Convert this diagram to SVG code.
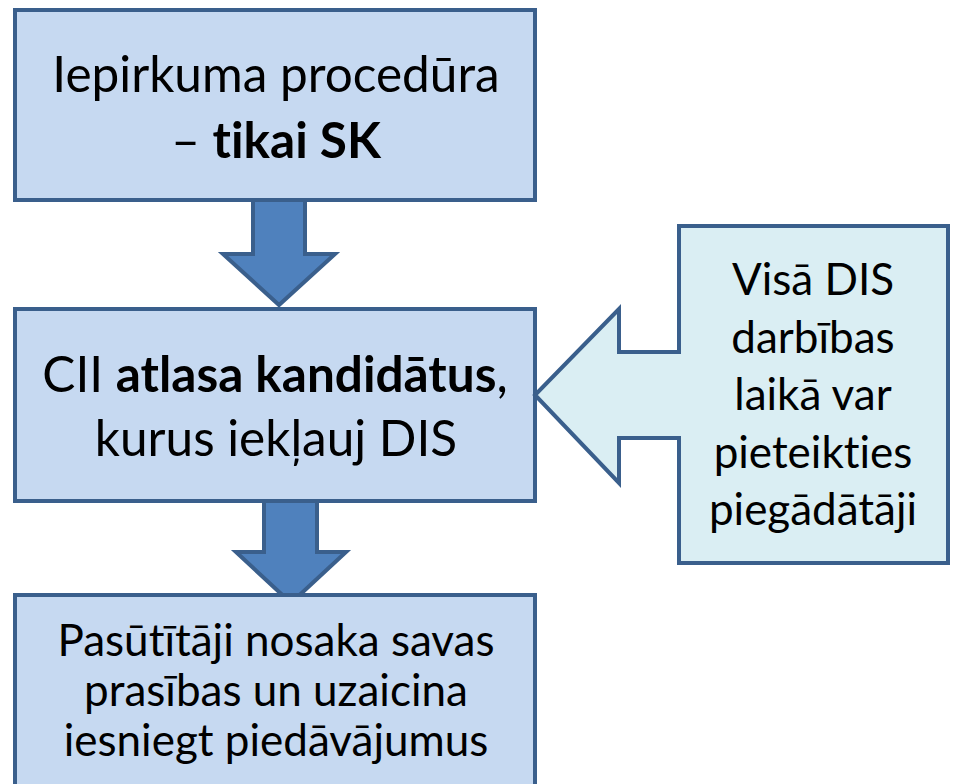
<svg xmlns="http://www.w3.org/2000/svg" width="955" height="784" viewBox="0 0 955 784">
<style>
.box{fill:#C6D9F1;stroke:#3A5F8C;stroke-width:4}
.call{fill:#DAEEF3;stroke:#3A5F8C;stroke-width:4;stroke-linejoin:miter}
.arr{fill:#4F81BD;stroke:#3A5F8C;stroke-width:4}
text{font-family:Lato,"Open Sans","Liberation Sans",sans-serif;fill:#000;text-anchor:middle;font-variant-ligatures:none;font-feature-settings:"liga" 0,"dlig" 0}
.t1{font-size:49.5px}
.t2{font-size:44px}
.b{font-weight:bold}
</style>
<rect width="955" height="784" fill="#fff"/>
<g id="connectors">
<polygon class="arr" points="253,200 305,200 305,254 335,254 279,305 223,254 253,254"/>
<polygon class="arr" points="264,501 317,501 317,552 346,552 291,603 236,552 264,552"/>
</g>
<g id="n1">
<rect class="box" x="15" y="10" width="520" height="190"/>
<text class="t1" x="276" y="92">Iepirkuma procedūra</text>
<text class="t1" x="276" y="158">– <tspan class="b">tikai SK</tspan></text>
</g>
<g id="n2">
<rect class="box" x="15" y="309" width="520" height="192"/>
<text class="t1" x="275" y="392">CII <tspan class="b">atlasa kandidātus</tspan>,</text>
<text class="t1" x="276" y="456">kurus iekļauj DIS</text>
</g>
<g id="n3">
<rect class="box" x="15" y="595" width="520" height="200"/>
<text class="t2" x="276" y="656">Pasūtītāji nosaka savas</text>
<text class="t2" x="276" y="706">prasības un uzaicina</text>
<text class="t2" x="276" y="756">iesniegt piedāvājumus</text>
</g>
<g id="n4">
<path class="call" d="M679,226 L948,226 L948,563 L679,563 L679,438 L619,438 L619,483 L535,395 L619,309 L619,352 L679,352 Z"/>
<text class="t2" x="813" y="295">Visā DIS</text>
<text class="t2" x="813" y="353">darbības</text>
<text class="t2" x="813" y="410">laikā var</text>
<text class="t2" x="813" y="468">pieteikties</text>
<text class="t2" x="813" y="525">piegādātāji</text>
</g>
</svg>
